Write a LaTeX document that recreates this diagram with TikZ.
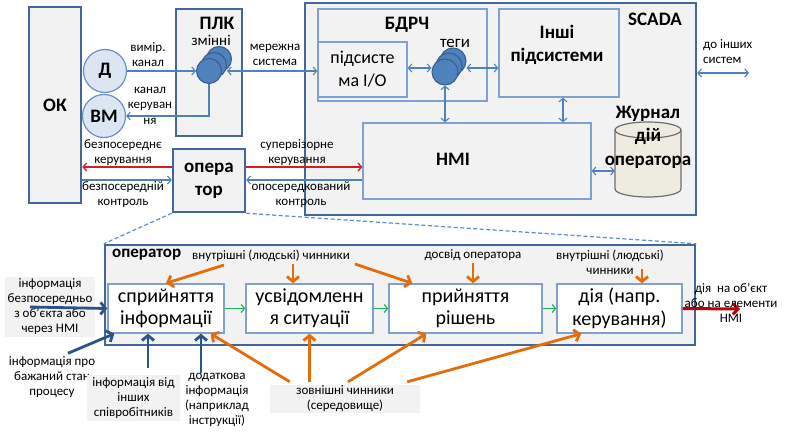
\documentclass[tikz,border=0pt]{standalone}
\usepackage{fontspec}
\setmainfont{Carlito}
\usetikzlibrary{arrows.meta,calc}
\definecolor{frame}{HTML}{446799}
\definecolor{thinb}{HTML}{7EA1D0}
\definecolor{connc}{HTML}{4F81BD}
\definecolor{lgray}{HTML}{F2F2F2}
\definecolor{cfill}{HTML}{DCE6F2}
\definecolor{circb}{HTML}{6A8FC4}
\definecolor{tagf}{HTML}{4F81BD}
\definecolor{tagb}{HTML}{385D8A}
\definecolor{orc}{HTML}{E46C0A}
\definecolor{navc}{HTML}{2C5286}
\definecolor{grc}{HTML}{1FB25A}
\definecolor{redc}{HTML}{D02020}
\definecolor{darkred}{HTML}{C00000}
\definecolor{beige}{HTML}{EEECE1}
\definecolor{cylb}{HTML}{6E6E6E}
\definecolor{dashc}{HTML}{5B8BD0}
\begin{document}
\begin{tikzpicture}[x=1pt,y=-1pt,
  thickbox/.style={draw=frame,line width=2.5pt,fill=lgray,inner sep=0pt},
  thinbox/.style={draw=thinb,line width=1.3pt,fill=lgray,inner sep=0pt},
  whitebox/.style={draw=thinb,line width=1.4pt,fill=white,inner sep=0pt,font=\fontsize{20}{22.5}\selectfont,align=center},
  lbl/.style={font=\fontsize{13}{15}\selectfont,align=center,inner sep=0pt},
  bl/.style={font=\bfseries\fontsize{19}{23}\selectfont,align=center,inner sep=0pt},
  graybox/.style={fill=lgray,inner sep=0pt,font=\fontsize{13}{15}\selectfont,align=center},
  circ/.style={circle,draw=circb,line width=1.2pt,fill=cfill,minimum size=43pt,inner sep=0pt,font=\bfseries\fontsize{19}{22}\selectfont},
  tagc/.style={circle,draw=tagb,line width=1pt,fill=tagf,minimum size=25pt,inner sep=0pt},
  conn/.style={draw=connc,line width=1.1pt,-{Straight Barb[length=3.5pt,width=8pt]}},
  bconn/.style={draw=connc,line width=1.1pt,{Straight Barb[length=3.5pt,width=8pt]}-{Straight Barb[length=3.5pt,width=8pt]}},
  redthin/.style={draw=redc,line width=1.3pt,-{Straight Barb[length=3.5pt,width=8pt]}},
  redthick/.style={draw=darkred,line width=3pt,-{Straight Barb[length=5pt,width=11pt]}},
  orarr/.style={draw=orc,line width=2.8pt,-{Straight Barb[length=5pt,width=12pt]}},
  navarr/.style={draw=navc,line width=2.8pt,-{Straight Barb[length=5pt,width=12pt]}},
  grarr/.style={draw=grc,line width=1.1pt,-{Straight Barb[length=3.5pt,width=8pt]}},
  dashl/.style={draw=dashc,line width=1.2pt,dash pattern=on 4pt off 2.5pt}
]
\useasboundingbox (0,0) rectangle (788,439);
\fill[white] (0,0) rectangle (788,439);

% ---------- top part ----------
\node[thickbox,minimum width=52pt,minimum height=196pt,font=\bfseries\fontsize{19}{22}\selectfont] (ok) at (55,105) {ОК};
\node[circ] (d) at (105,71) {Д};
\node[circ] (vm) at (104,116) {ВМ};

\node[thickbox,minimum width=66pt,minimum height=127pt] (plc) at (209,72.5) {};
\node[bl] (plclbl) at (217,23) {ПЛК};
\node[lbl,font=\fontsize{15}{17}\selectfont] (zm) at (211,40) {змінні};
\node[tagc] (pt3) at (219,59) {};
\node[tagc] (pt2) at (214,65) {};
\node[tagc] (pt1) at (209,71) {};

\node[thickbox,minimum width=391pt,minimum height=212pt] (scada) at (500.5,109) {};
\node[bl] (scadalbl) at (655,19) {SCADA};
\node[thinbox,minimum width=169pt,minimum height=92pt] (bdrch) at (402.5,55) {};
\node[bl] (bdrchlbl) at (407,25) {БДРЧ};
\node[thinbox,minimum width=89pt,minimum height=55pt,font=\fontsize{18}{23}\selectfont,align=center] (io) at (362.5,69.5) {підсисте\\ма I/O};
\node[lbl,font=\fontsize{17}{19}\selectfont] (teg) at (455,43) {теги};
\node[tagc,minimum size=26pt] (st3) at (453,61) {};
\node[tagc,minimum size=26pt] (st2) at (449,66) {};
\node[tagc,minimum size=26pt] (st1) at (445,72) {};
\node[thinbox,minimum width=120pt,minimum height=88pt] (inshi) at (559,53) {};
\node[bl] (inshilbl) at (557,45) {Інші\\підсистеми};
\node[thinbox,minimum width=228pt,minimum height=76pt] (hmi) at (477,161) {};
\node[bl] (hmilbl) at (453,159) {HMI};

% journal cylinder
\node[minimum width=66pt,minimum height=75pt,inner sep=0pt] (jrn) at (648,159.5) {};
\draw[draw=cylb,fill=beige,line width=1.2pt] (615,130) -- (615,189) arc[start angle=180,end angle=360,x radius=33pt,y radius=8pt] -- (681,130) arc[start angle=0,end angle=180,x radius=33pt,y radius=8pt] -- cycle;
\draw[draw=cylb,line width=1.2pt] (615,130) arc[start angle=180,end angle=360,x radius=33pt,y radius=8pt];
\node[bl,font=\bfseries\fontsize{19}{23.5}\selectfont] (jrnlbl) at (648,137) {Журнал\\дій\\оператора};

\node[thickbox,minimum width=72pt,minimum height=63pt,font=\bfseries\fontsize{19}{23}\selectfont,align=center] (op) at (209,180.5) {опера\\тор};

% labels top
\node[lbl] (l1) at (148,55) {вимір.\\канал};
\node[lbl,font=\fontsize{13}{15.5}\selectfont] (l2) at (150,105.5) {канал\\керуван\\ня};
\node[lbl] (l3) at (275,55) {мережна\\система};
\node[lbl,align=left,anchor=west] (l4) at (703,52) {до інших\\систем};
\node[lbl] (l5) at (123,152.5) {безпосереднє\\керування};
\node[lbl] (l6) at (123,195) {безпосередній\\контроль};
\node[lbl] (l7) at (297,152.5) {супервізорне\\керування};
\node[lbl] (l8) at (301,195) {опосередкований\\контроль};

% connectors top
\coordinate (ly) at (0,68);
\coordinate (ry) at (0,167);
\coordinate (by) at (0,180);
\coordinate (jy) at (0,171);
\coordinate (ext) at (749,73);
\draw[conn] (d.east) -- (pt1.west);
\draw[conn] (pt1.south) |- (vm.east);
\draw[bconn] (pt2.east |- pt1.center) -- (io.west |- pt1.center);
\draw[bconn] (io.east |- ly) -- (st1.west |- ly);
\draw[bconn] (st3.east |- ly) -- (inshi.west |- ly);
\draw[bconn] (st1.south) -- (st1.south |- hmi.north);
\draw[bconn] ([xshift=4pt]inshi.south) -- ([xshift=4pt]inshi.south |- hmi.north);
\draw[bconn] (hmi.east |- jy) -- (jrn.west |- jy);
\draw[bconn] (scada.east |- ext) -- (ext);
\draw[redthin] (op.west |- ry) -- (ok.east |- ry);
\draw[redthin] (op.east |- ry) -- (hmi.west |- ry);
\draw[conn] (ok.east |- by) -- (op.west |- by);
\draw[conn] (hmi.west |- by) -- (op.east |- by);

% ---------- bottom part ----------
\node[thickbox,minimum width=590pt,minimum height=100pt] (bigop) at (400,295) {};
\draw[dashl] (op.south west) -- (bigop.north west);
\draw[dashl] (op.south east) -- (bigop.north east);
\node[bl,font=\bfseries\fontsize{17}{19}\selectfont,anchor=west] (bigoplbl) at (112,255) {оператор};

\node[whitebox,minimum width=116pt,minimum height=49pt] (s1) at (166,308.5) {сприйняття\\інформації};
\node[whitebox,minimum width=127pt,minimum height=49pt] (s2) at (309.5,308.5) {усвідомленн\\я ситуації};
\node[whitebox,minimum width=153pt,minimum height=49pt] (s3) at (465.5,308.5) {прийняття\\рішень};
\node[whitebox,minimum width=125pt,minimum height=49pt] (s4) at (619.5,308.5) {дія (напр.\\керування)};
\draw[grarr] (s1) -- (s2);
\draw[grarr] (s2) -- (s3);
\draw[grarr] (s3) -- (s4);
\coordinate (outr) at (740,309);
\draw[redthick] (s4.east) -- (outr);
\node[lbl] (outlbl) at (731,303) {дія~ на об'єкт\\або на елементи\\HMI};

% internal factors
\node[lbl] (f1) at (271,256) {внутрішні (людські) чинники};
\node[lbl] (f2) at (473,255) {досвід оператора};
\node[lbl] (f3) at (610,262.5) {внутрішні (людські)\\чинники};
\coordinate (a5s) at (642,269);
\draw[orarr] ([xshift=32pt,yshift=-3pt]f1.south west) -- (s1.north);
\draw[orarr] ([xshift=22pt,yshift=-2pt]f1.south) -- ([xshift=22pt]f1.south |- s2.north);
\draw[orarr] ([xshift=5pt,yshift=-2pt]f1.south east) -- ([xshift=24pt]s3.north west);
\draw[orarr] ([yshift=-2pt]f2.south) -- (f2.south |- s3.north);
\draw[orarr] (a5s) -- (a5s |- s4.north);

% external factors
\node[graybox,minimum width=150pt,minimum height=28pt] (ext2) at (345,399) {зовнішні чинники\\(середовище)};
\draw[orarr] ([xshift=20pt,yshift=3pt]ext2.north west) -- ([xshift=-14pt]s1.south east);
\draw[orarr] (s2.south |- ext2.north) ++(0,-3) -- (s2.south);
\draw[orarr] ([xshift=3pt,yshift=3pt]ext2.north) -- ([xshift=38pt]s3.south west);
\draw[orarr] ([xshift=-13pt,yshift=3pt]ext2.north east) -- ([xshift=25pt]s4.south west);

% information inputs
\node[graybox,minimum width=90pt,minimum height=60pt] (i1) at (50,307) {інформація\\безпосередньо\\з об'єкта або\\через HMI};
\draw[navarr] ([xshift=25pt]i1.west) -- (s1.west);
\node[lbl] (i2) at (52,377) {інформація про\\бажаний стан\\процесу};
\draw[navarr] ([xshift=16pt,yshift=3pt]i2.north) -- ([xshift=7pt]s1.south west);
\node[graybox,minimum width=93pt,minimum height=46pt] (i3) at (133.5,398) {інформація від\\інших\\співробітників};
\draw[navarr] ([xshift=14.5pt,yshift=7pt]i3.north) -- ([xshift=14.5pt]i3.north |- s1.south);
\node[lbl] (i4) at (217,400) {додаткова\\інформація\\(наприклад\\інструкції)};
\draw[navarr] ([xshift=-16pt]i4.north) -- ([xshift=-16pt]i4.north |- s1.south);
\end{tikzpicture}
\end{document}
